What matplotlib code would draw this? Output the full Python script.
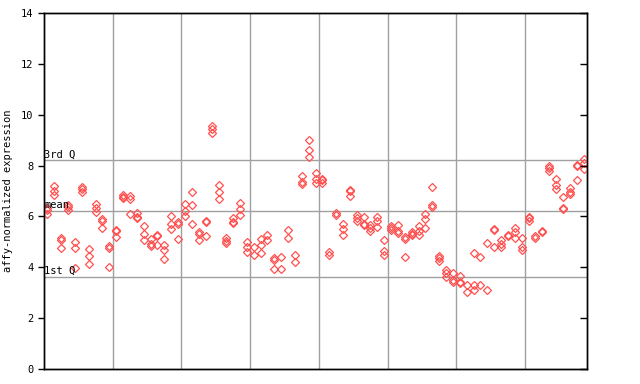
import matplotlib
matplotlib.use('Agg')
import matplotlib.pyplot as plt

# replicate values per sample
expr = [
    [6.32, 6.25, 6.08], [7.2, 7.01, 6.83], [5.14, 5.06, 4.74], [6.45, 6.36, 6.24],
    [4.98, 4.74, 3.96], [7.17, 7.06, 6.95], [4.71, 4.43, 4.12], [6.49, 6.32, 6.16],
    [5.88, 5.81, 5.53], [4.84, 4.77, 4.0], [5.47, 5.43, 5.18], [6.84, 6.76, 6.72],
    [6.79, 6.67, 6.08], [6.12, 5.97, 5.93], [5.61, 5.29, 5.06], [5.1, 4.9, 4.82],
    [5.28, 5.24, 4.86], [4.86, 4.67, 4.31], [6.0, 5.69, 5.49], [5.77, 5.69, 5.1],
    [6.47, 6.2, 6.0], [6.95, 6.44, 5.69], [5.37, 5.29, 5.06], [5.83, 5.79, 5.22],
    [9.54, 9.44, 9.27], [7.22, 6.95, 6.67], [5.14, 5.02, 4.94], [5.92, 5.77, 5.73],
    [6.53, 6.28, 6.04], [4.98, 4.78, 4.59], [4.78, 4.47], [5.1, 4.86, 4.55],
    [5.26, 5.06], [4.35, 4.27, 3.92], [4.39, 3.92], [5.47, 5.14],
    [4.47, 4.19], [7.58, 7.37, 7.27], [8.99, 8.6, 8.32], [7.69, 7.46, 7.3],
    [7.48, 7.44, 7.3], [4.59, 4.47], [6.12, 6.04], [5.69, 5.49, 5.26],
    [7.03, 6.99, 6.79], [6.04, 5.92, 5.81], [5.96, 5.71, 5.67], [5.65, 5.53, 5.41],
    [5.96, 5.81, 5.57], [5.06, 4.63, 4.47], [5.61, 5.53, 5.45], [5.65, 5.43, 5.33],
    [5.18, 5.1, 4.39], [5.37, 5.3, 5.26], [5.61, 5.41, 5.26], [6.08, 5.88, 5.53],
    [7.14, 6.44, 6.36], [4.43, 4.35, 4.23], [3.88, 3.76, 3.6], [3.76, 3.49, 3.41],
    [3.64, 3.43, 3.39], [3.29, 3.01], [4.55, 3.29, 3.09], [4.39, 3.29],
    [4.94, 3.09], [5.51, 5.47, 4.78], [5.06, 4.9, 4.78], [5.28, 5.24],
    [5.53, 5.37, 5.14], [5.14, 4.78, 4.67], [5.98, 5.94, 5.81], [5.22, 5.14],
    [5.43, 5.39], [8.0, 7.9, 7.77], [7.46, 7.22, 7.06], [6.75, 6.32, 6.28],
    [7.1, 6.95, 6.87], [8.03, 7.99, 7.42], [8.24, 8.09, 7.85],
]

q1 = 3.62
mean_val = 6.21
q3 = 8.21

fig = plt.figure(figsize=(6.4, 3.84), dpi=100)
ax = fig.add_axes([44 / 640, 15 / 384, 543 / 640, 356 / 384])

n = len(expr)
for g in range(10, n, 10):
    ax.axvline(g - 0.5, color='#a0a0a0', lw=1, zorder=1)
for yv in (q1, mean_val, q3):
    ax.axhline(yv, color='#a0a0a0', lw=1, zorder=1)

for i, vals in enumerate(expr):
    ax.plot([i] * len(vals), vals, linestyle='none', marker='D', markersize=3.6,
            markerfacecolor='none', markeredgecolor='#ff5050', markeredgewidth=0.9,
            zorder=3)

mono = 'DejaVu Sans Mono'
for label, yv in (('3rd Q', q3), ('mean', mean_val), ('1st Q', q1)):
    ax.text(-0.45, yv + 0.03, label, fontsize=7.5, family=mono,
            va='bottom', ha='left', zorder=4)

ax.set_xlim(-0.5, n - 0.5)
ax.set_ylim(0, 14)
ax.set_yticks(range(0, 15, 2))
ax.set_yticklabels([str(v) for v in range(0, 15, 2)], fontsize=7.5, family=mono)
ax.set_xticks([])
ax.tick_params(axis='y', direction='out', length=4, width=1)
ax.set_ylabel('affy-normalized expression', fontsize=7.5, family=mono, labelpad=6)

# right side ticks point inwards, without labels
ax_r = ax.twinx()
ax_r.set_ylim(ax.get_ylim())
ax_r.set_yticks(range(0, 15, 2))
ax_r.tick_params(axis='y', direction='in', length=5, width=1, labelright=False)

for a in (ax, ax_r):
    for sp in a.spines.values():
        sp.set_linewidth(1)

fig.savefig('out.png', dpi=100)
